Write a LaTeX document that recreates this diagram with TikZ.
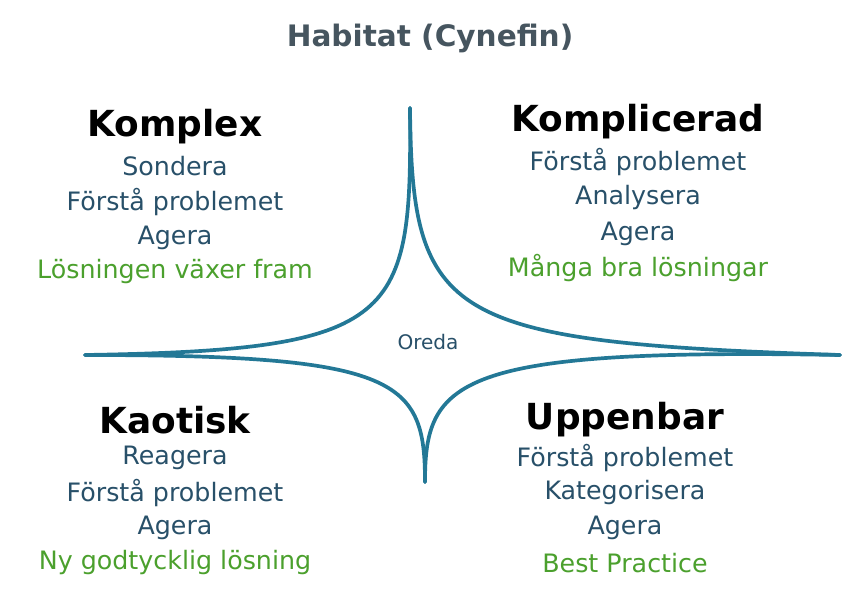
\documentclass[tikz,border=0pt]{standalone}
\usepackage{fontspec}
\setmainfont{DejaVu Sans}
\definecolor{bluegray}{RGB}{40,80,105}
\definecolor{titlegray}{RGB}{70,85,95}
\definecolor{leafgreen}{RGB}{75,160,45}
\definecolor{linecol}{RGB}{35,120,150}
\tikzset{
  head/.style={font=\fontsize{34}{36}\selectfont\bfseries, text=black},
  body/.style={font=\fontsize{24}{26}\selectfont, text=bluegray},
  green/.style={font=\fontsize{24}{26}\selectfont, text=leafgreen},
  arc/.style={line width=3.5pt, draw=linecol, line cap=round}
}
\begin{document}
\begin{tikzpicture}[x=0.0333cm,y=-0.0333cm]
        \useasboundingbox (0,0) rectangle (864,595);

        \node[font=\fontsize{28}{30}\selectfont\bfseries, text=titlegray] (title) at (430,38) {Habitat (Cynefin)};

        % #######################################

        \node[head] (komplex) at (175,127) {Komplex};
        \node[body] (k1) at (175,166) {Sondera};
        \node[body] (k2) at (175,202) {Förstå problemet};
        \node[body] (k3) at (175,238) {Agera};
        \node[green] (k4) at (175,272) {Lösningen växer fram};

        \node[head] (komplicerad) at (638,122) {Komplicerad};
        \node[body] (c1) at (638,162) {Förstå problemet};
        \node[body] (c2) at (638,198) {Analysera};
        \node[body] (c3) at (638,234) {Agera};
        \node[green] (c4) at (638,268) {Många bra lösningar};

        \node[head] (kaotisk) at (175,420) {Kaotisk};
        \node[body] (a1) at (175,458) {Reagera};
        \node[body] (a2) at (175,493) {Förstå problemet};
        \node[body] (a3) at (175,528) {Agera};
        \node[green] (a4) at (175,563) {Ny godtycklig lösning};

        \node[head] (uppenbar) at (625,420) {Uppenbar};
        \node[body] (u1) at (625,458) {Förstå problemet};
        \node[body] (u2) at (625,493) {Kategorisera};
        \node[body] (u3) at (625,528) {Agera};
        \node[green] (u4) at (625,563) {Best Practice};

        \node[font=\fontsize{19}{20}\selectfont, text=bluegray] (oreda) at (428,342) {Oreda};

        % #######################################

        \coordinate (top) at (410,108);
        \coordinate (right) at (840,355);
        \coordinate (bottom) at (425,482);
        \coordinate (left) at (85,355);

        \draw[arc] (top) .. controls (412,320) and (400,350) .. (left);
        \draw[arc] (top) .. controls (412,320) and (445,342) .. (right);
        \draw[arc] (bottom) .. controls (425,380) and (400,355) .. (left);
        \draw[arc] (bottom) .. controls (425,380) and (455,348) .. (right);

    \end{tikzpicture}
\end{document}
